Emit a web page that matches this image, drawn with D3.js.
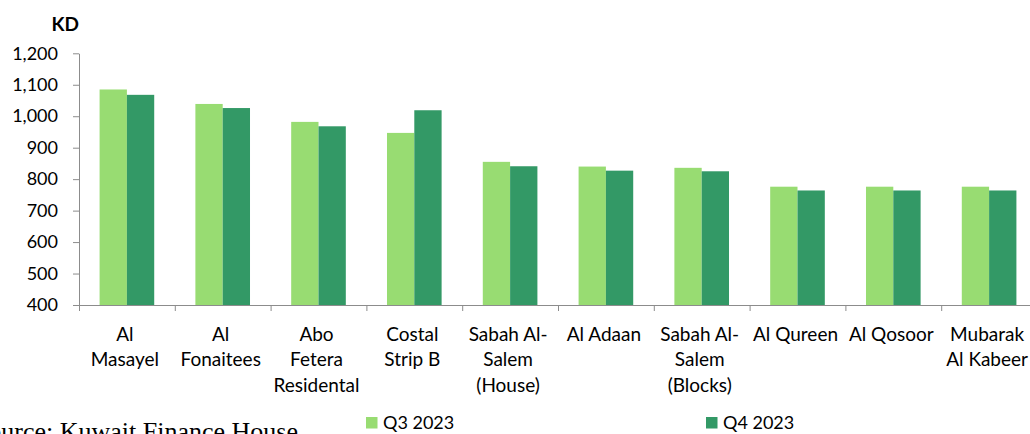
<!DOCTYPE html>
<html>
<head>
<meta charset="utf-8">
<script src="https://cdn.jsdelivr.net/npm/d3@7"></script>
<style>
  html, body { margin: 0; padding: 0; background: #fff; overflow: hidden; }
  svg { display: block; }
</style>
</head>
<body>
<svg id="chart" width="1030" height="434"></svg>
<script>
const categories = [
  "Al\nMasayel",
  "Al\nFonaitees",
  "Abo\nFetera\nResidental",
  "Costal\nStrip B",
  "Sabah Al-\nSalem\n(House)",
  "Al Adaan",
  "Sabah Al-\nSalem\n(Blocks)",
  "Al Qureen",
  "Al Qosoor",
  "Mubarak\nAl Kabeer"
];
const seriesNames = ["Q3 2023", "Q4 2023"];
const q3Values = [1085, 1039, 982, 947, 855, 840, 836, 776, 776, 776];
const q4Values = [1068, 1026, 968, 1019, 841, 827, 825, 764, 764, 764];
const yTicks = [400, 500, 600, 700, 800, 900, 1000, 1100, 1200];
const yUnit = "KD";
const sourceText = "Source: Kuwait Finance House";

const colors = ["#98dc72", "#339966"];
const font = "Lato, 'Open Sans', sans-serif";

const svg = d3.select("#chart");

const x0 = d3.scaleBand().domain(categories).range([79, 1037]).padding(0);
const x1 = d3.scaleBand().domain(seriesNames).range([0, x0.bandwidth()])
  .paddingInner(0).paddingOuter(0.754);
const y = d3.scaleLinear().domain([400, 1200]).range([305, 53.3]);

const data = categories.map((c, i) => ({ cat: c, vals: [q3Values[i], q4Values[i]] }));

// bars
const groups = svg.append("g").selectAll("g").data(data).join("g")
  .attr("transform", d => `translate(${x0(d.cat)},0)`);
groups.selectAll("rect")
  .data(d => d.vals.map((v, j) => ({ s: seriesNames[j], v, j })))
  .join("rect")
  .attr("x", d => x1(d.s))
  .attr("width", x1.bandwidth())
  .attr("y", d => y(d.v))
  .attr("height", d => y(400) - y(d.v))
  .attr("fill", d => colors[d.j]);

// y axis
const yAxis = svg.append("g")
  .attr("transform", "translate(79,0)")
  .call(d3.axisLeft(y).tickValues(yTicks).tickFormat(d3.format(",")).tickSize(6).tickSizeOuter(0).tickPadding(15));
yAxis.select(".domain").attr("stroke", "#8c8c8c");
yAxis.selectAll(".tick line").attr("stroke", "#8c8c8c");
yAxis.selectAll(".tick text")
  .attr("fill", "#000")
  .style("font-family", font)
  .style("font-size", "18px");

// x axis line and ticks at band boundaries
const boundaries = categories.map(c => x0(c)).concat([x0.range()[1]]);
const xb = d3.scaleLinear().domain([79, 1037]).range([79, 1037]);
const xAxis = svg.append("g")
  .attr("transform", "translate(0,305)")
  .call(d3.axisBottom(xb).tickValues(boundaries).tickSize(6).tickSizeOuter(0).tickFormat(""));
xAxis.select(".domain").attr("stroke", "#8c8c8c");
xAxis.selectAll(".tick line").attr("stroke", "#8c8c8c");

// category labels
const labels = svg.append("g").selectAll("text").data(categories).join("text")
  .attr("text-anchor", "middle")
  .attr("x", c => x0(c) + x0.bandwidth() / 2)
  .attr("y", 340.5)
  .attr("fill", "#000")
  .style("font-family", font)
  .style("font-size", "19px");
labels.each(function(c) {
  const t = d3.select(this);
  c.split("\n").forEach((line, i) => {
    t.append("tspan")
      .attr("x", x0(c) + x0.bandwidth() / 2 - 2)
      .attr("y", 340.5 + i * 25.7)
      .text(line);
  });
});

// unit label
svg.append("text")
  .attr("x", 79).attr("y", 31)
  .attr("text-anchor", "end")
  .attr("fill", "#000")
  .style("font-family", font)
  .style("font-weight", "bold")
  .style("font-size", "19px")
  .text(yUnit);

// legend
const legendX = [366, 706];
const legend = svg.append("g").selectAll("g").data(seriesNames).join("g")
  .attr("transform", (d, i) => `translate(${legendX[i]},0)`);
legend.append("rect")
  .attr("x", 0).attr("y", 417).attr("width", 11.5).attr("height", 11.5)
  .attr("fill", (d, i) => colors[i]);
legend.append("text")
  .attr("x", 17).attr("y", 429)
  .attr("fill", "#000")
  .style("font-family", font)
  .style("font-size", "18px")
  .text(d => d);

// source
svg.append("text")
  .attr("x", 298).attr("y", 440)
  .attr("text-anchor", "end")
  .attr("fill", "#000")
  .style("font-family", "'Liberation Serif', 'Times New Roman', serif")
  .style("font-size", "26px")
  .text(sourceText);
</script>
</body>
</html>
